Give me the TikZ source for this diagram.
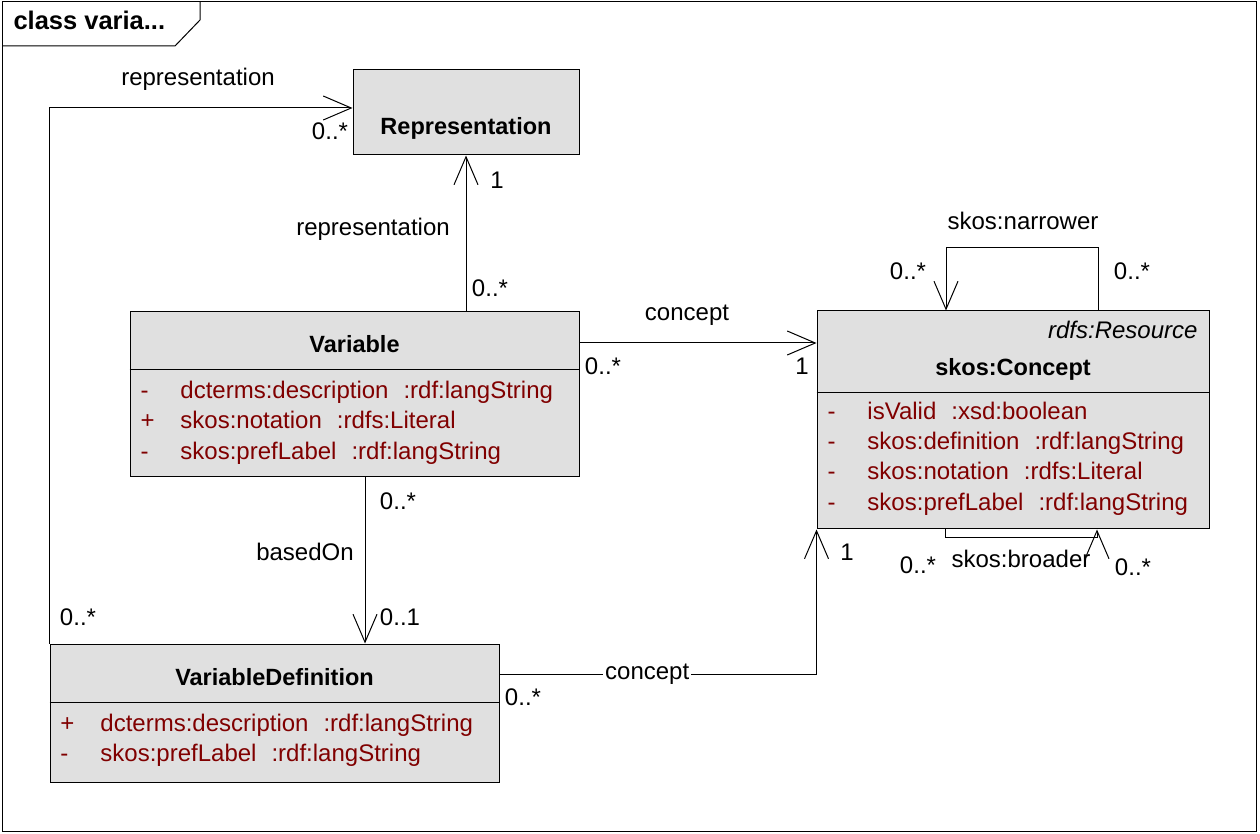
\documentclass[tikz,border=0pt]{standalone}
\usepackage{fontspec}
\setmainfont{Liberation Sans}
\usetikzlibrary{arrows.meta,fit,positioning}
\definecolor{boxgray}{RGB}{224,224,224}
\definecolor{attrred}{RGB}{128,0,0}
\newcommand{\vis}[1]{\makebox[20pt][l]{#1}}
\newcommand{\gap}{\hspace{7.5pt}}

\begin{document}
\begin{tikzpicture}[%
    x=0.5pt,y=-0.5pt,line width=0.5pt,>={Straight Barb[length=14pt,width=12pt]},
    font=\fontsize{12}{15}\selectfont,
    umlclass/.style={draw,fill=boxgray,inner sep=0pt},
    clsname/.style={anchor=base,font=\fontsize{11.75}{15}\selectfont\bfseries,inner sep=0pt},
    attr/.style={anchor=base west,text=attrred,inner sep=0pt},
    mult/.style={inner sep=0pt}
  ]
    \useasboundingbox (0,0) rectangle (1260,834);

    % frame
    \draw (2,2) rectangle (1256,831);
    \draw (2,46) -- (175,46) -- (200,20) -- (200,2);
    \node[anchor=base west,inner sep=0pt,font=\fontsize{12.75}{15}\selectfont\bfseries] (frametitle) at (13,30) {class varia...};

    % classes
    \node[umlclass,fit={(353,70) (579,155)}] (rep) {};
    \node[clsname] (reptitle) at (rep.center |- 0,135) {Representation};

    \node[umlclass,fit={(130,312) (579,477)}] (var) {};
    \node[clsname] (vartitle) at (var.center |- 0,353) {Variable};
    \draw (var.west |- 0,370) -- (var.east |- 0,370);
    \node[attr] (var1) at (140,399) {\vis{-}dcterms:description\gap:rdf:langString};
    \node[attr] (var2) at (140,429) {\vis{+}skos:notation\gap:rdfs:Literal};
    \node[attr] (var3) at (140,459) {\vis{-}skos:prefLabel\gap:rdf:langString};

    \node[umlclass,fit={(817,311) (1209,529)}] (con) {};
    \node[anchor=base east,inner sep=0pt,font=\fontsize{12}{15}\selectfont\itshape] (constereo) at (1198,339) {rdfs:Resource};
    \node[clsname] (contitle) at (con.center |- 0,376) {skos:Concept};
    \draw (con.west |- 0,393) -- (con.east |- 0,393);
    \node[attr] (con1) at (827,420) {\vis{-}isValid\gap:xsd:boolean};
    \node[attr] (con2) at (827,450) {\vis{-}skos:definition\gap:rdf:langString};
    \node[attr] (con3) at (827,480) {\vis{-}skos:notation\gap:rdfs:Literal};
    \node[attr] (con4) at (827,510) {\vis{-}skos:prefLabel\gap:rdf:langString};

    \node[umlclass,fit={(50,644) (499,782)}] (vdef) {};
    \node[clsname] (vdeftitle) at (vdef.center |- 0,685) {VariableDefinition};
    \draw (vdef.west |- 0,702) -- (vdef.east |- 0,702);
    \node[attr] (vdef1) at (60,731) {\vis{+}dcterms:description\gap:rdf:langString};
    \node[attr] (vdef2) at (60,761) {\vis{-}skos:prefLabel\gap:rdf:langString};

    % associations
    \draw[->] (rep.south |- var.north) -- (rep.south);
    \draw[->] (var.east |- 0,343) -- (con.west |- 0,343);
    \draw[->] (con.north -| 1098,0) -- ++(0,-63) -| (con.north -| 946,0);
    \draw[->] (con.south -| 945,0) -- ++(0,8) -| (con.south -| 1097,0);
    \draw[->] (vdef.east |- 0,674) -| (con.south west)
        node[pos=.233,fill=white,inner sep=1pt] (conceptb) {concept};
    \draw[->] (var.south -| 365,0) -- (vdef.north -| 365,0);
    \draw[->] (vdef.north west) |- (rep.west |- 0,108);

    % role names and multiplicities
    \node[mult] (reprole1) at (198,79) {representation};
    \node[mult] (repm1) at (330,131) {0..*};
    \node[mult] (repm2) at (78,617) {0..*};
    \node[mult] (reprole2) at (373,229) {representation};
    \node[mult] (repm3) at (497,180) {1};
    \node[mult] (repm4) at (490,288) {0..*};
    \node[mult] (conrole) at (687,315) {concept};
    \node[mult] (conm1) at (603,366) {0..*};
    \node[mult] (conm2) at (802,366) {1};
    \node[mult] (narrole) at (1023,221) {skos:narrower};
    \node[mult] (narm1) at (908,271) {0..*};
    \node[mult] (narm2) at (1132,271) {0..*};
    \node[mult] (broadrole) at (1021,559) {skos:broader};
    \node[mult] (broadm1) at (918,565) {0..*};
    \node[mult] (broadm2) at (1133,567) {0..*};
    \node[mult] (baserole) at (305,552) {basedOn};
    \node[mult] (basem1) at (398,501) {0..*};
    \node[mult] (basem2) at (400,617) {0..1};
    \node[mult] (conbm1) at (523,697) {0..*};
    \node[mult] (conbm2) at (847,552) {1};
\end{tikzpicture}
\end{document}
